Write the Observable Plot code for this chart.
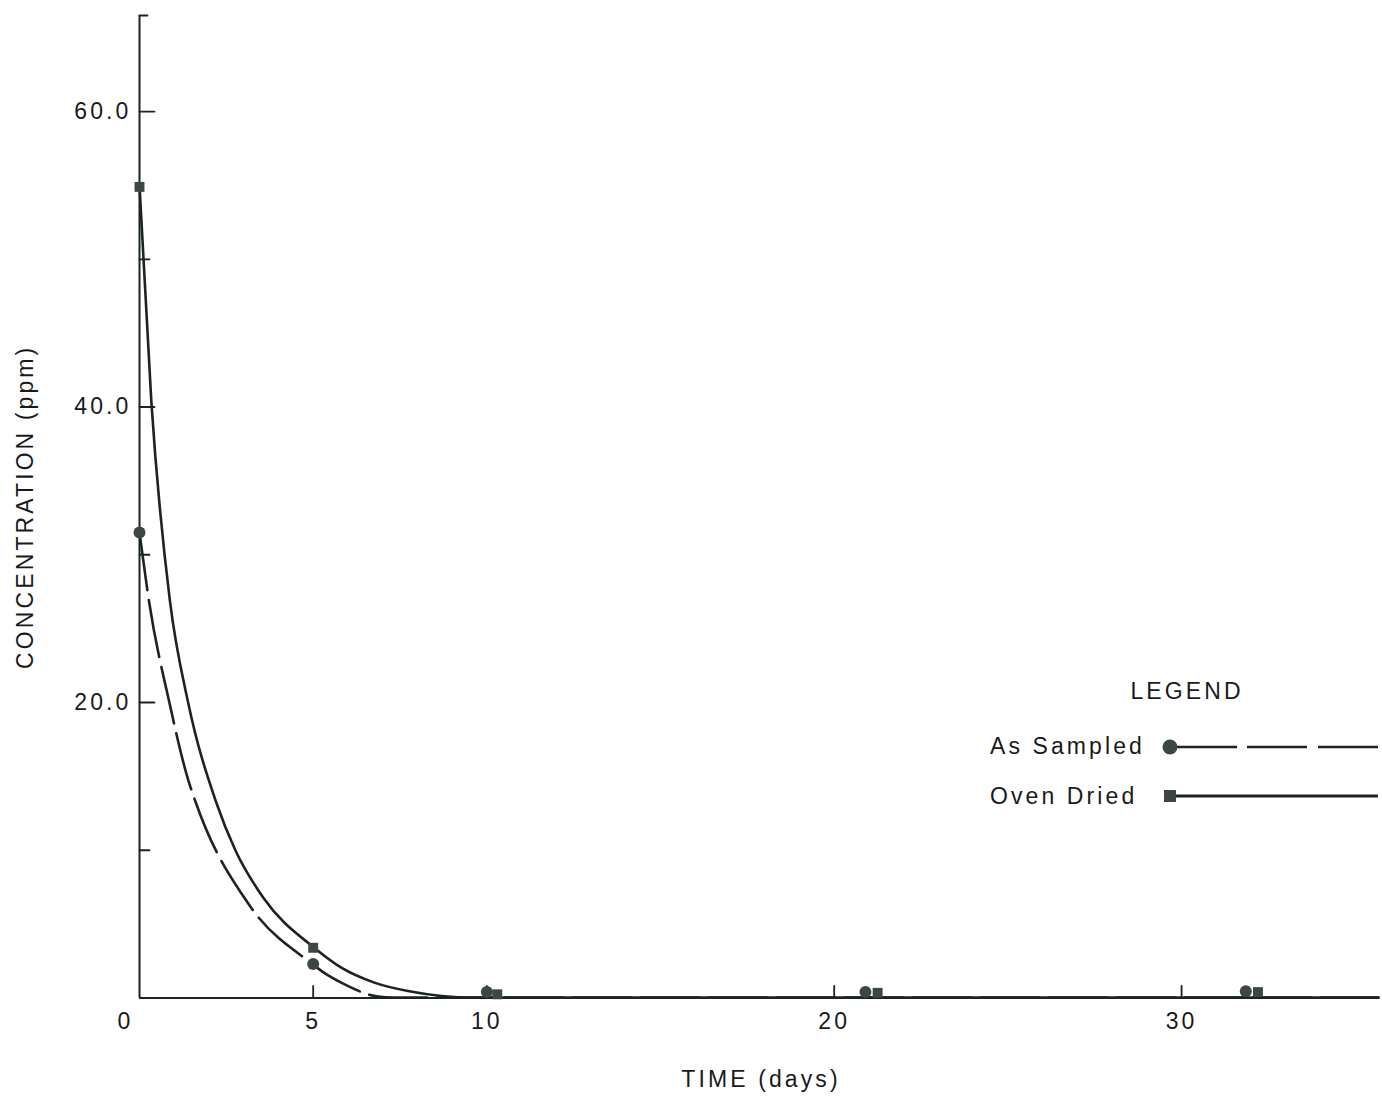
<!DOCTYPE html>
<html><head><meta charset="utf-8">
<script src="https://cdn.jsdelivr.net/npm/d3@7"></script>
<script src="https://cdn.jsdelivr.net/npm/@observablehq/plot@0.6"></script>
<style>
html,body{margin:0;padding:0;background:#fff;}
#wrap{position:relative;width:1382px;height:1098px;}
#wrap svg text{letter-spacing:3.1px;}
#legend{position:absolute;left:0;top:0;pointer-events:none;}
</style></head><body><div id="wrap"></div>
<script>
// ---- data ----
const xMax = 35.67, yMax = 66.5;
const xTickValues = [5, 10, 20, 30];
const xLabelValues = [5, 10, 20, 30];
const xZeroLabel = [0];
const yMajorTicks = [20, 40, 60];
const yMinorTicks = [10, 30, 50];
const yLabelValues = [20, 40, 60];

const sampledDays = [0, 5, 10, 20.9, 31.85];
const sampledPpm  = [31.5, 2.3, 0.4, 0.4, 0.45];
const driedDays   = [0, 5, 10.3, 21.25, 32.2];
const driedPpm    = [54.9, 3.4, 0.25, 0.35, 0.4];

// drawn (fitted) curves
const sampledCurveDays = [0, 0.27, 0.86, 1.41, 1.61, 3.19, 4.98, 5.33, 5.78, 6.87, 7.3, 10, 20, 35.67];
const sampledCurvePpm  = [31.5, 26.9, 20.0, 14.7, 13.3, 6.2, 2.3, 1.68, 1.07, 0.1, 0.03, 0.03, 0.03, 0.03];
const driedCurveDays   = [0, 0.34, 0.875, 1.40, 2.2, 2.76, 3.56, 5.03, 5.81, 6.76, 7.73, 8.69, 9.6, 12, 35.67];
const driedCurvePpm    = [55, 40.4, 26.9, 20.0, 13.3, 10.0, 6.8, 3.4, 2.05, 1.04, 0.47, 0.14, 0.03, 0.03, 0.03];

const legendLabels = ["As Sampled", "Oven Dried"];
const legendTitle = "LEGEND";
const yTitle = "CONCENTRATION (ppm)";
const xTitle = "TIME (days)";

// ---- build tables ----
const zipXY = (xs, ys) => xs.map((x, i) => ({x, y: ys[i]}));
const sampled = zipXY(sampledDays, sampledPpm);
const dried = zipXY(driedDays, driedPpm);
const sampledCurve = zipXY(sampledCurveDays, sampledCurvePpm);
const driedCurve = zipXY(driedCurveDays, driedCurvePpm);

const ink = "#1b2323";
const txt = "#1a1a1a";
const markFill = "#3c4646";
const font = "'Liberation Sans', Arial, Helvetica, sans-serif";
const fs = 23;
const lineShape = {draw(ctx, l) { ctx.moveTo(0, 0); ctx.lineTo(0, -l); }};

const chart = Plot.plot({
  width: 1382, height: 1098,
  marginLeft: 139, marginRight: 4, marginTop: 15, marginBottom: 100.5,
  x: {domain: [0, xMax]},
  y: {domain: [0, yMax]},
  style: {fontFamily: font, fontSize: fs + "px", color: txt, background: "#fff"},
  marks: [
    Plot.ruleY([0], {stroke: ink, strokeWidth: 2}),
    Plot.ruleX([0], {stroke: ink, strokeWidth: 2}),
    Plot.vector(yMajorTicks, {x: 0, y: d => d, length: 15, rotate: 90, anchor: "start", shape: lineShape, stroke: ink, strokeWidth: 1.8}),
    Plot.vector(yMinorTicks, {x: 0, y: d => d, length: 10, rotate: 90, anchor: "start", shape: lineShape, stroke: ink, strokeWidth: 1.8}),
    Plot.vector([yMax], {x: 0, y: d => d, length: 8, rotate: 90, anchor: "start", shape: lineShape, stroke: ink, strokeWidth: 1.8}),
    Plot.vector(xTickValues, {x: d => d, y: 0, length: 12, rotate: 0, anchor: "start", shape: lineShape, stroke: ink, strokeWidth: 1.8}),
    Plot.axisY(yLabelValues, {tickSize: 0, tickPadding: 8, tickFormat: d => d.toFixed(1), fontSize: fs, label: null, fill: txt}),
    Plot.axisX(xLabelValues, {tickSize: 0, tickPadding: 15, fontSize: fs, label: null, fill: txt}),
    Plot.axisX(xZeroLabel, {tickSize: 0, tickPadding: 15, dx: -14, fontSize: fs, label: null, fill: txt}),
    Plot.text([yTitle], {text: d => d, frameAnchor: "left", textAnchor: "middle", lineAnchor: "middle", rotate: -90, dx: -114, fontSize: fs, fill: txt}),
    Plot.text([xTitle], {text: d => d, frameAnchor: "bottom", textAnchor: "middle", lineAnchor: "middle", dx: 2, dy: 82, fontSize: fs, fill: txt}),
    Plot.line(sampledCurve, {x: "x", y: "y", curve: "monotone-x", stroke: ink, strokeWidth: 2.6, strokeDasharray: "58,10"}),
    Plot.line(driedCurve, {x: "x", y: "y", curve: "monotone-x", stroke: ink, strokeWidth: 2.6}),
    Plot.dot(sampled, {x: "x", y: "y", r: 6, symbol: "circle", fill: markFill, stroke: "none"}),
    Plot.dot(dried, {x: "x", y: "y", r: 5.6, symbol: "square", fill: markFill, stroke: "none"})
  ]
});
const wrap = document.getElementById("wrap");
wrap.appendChild(chart);

// ---- legend overlay ----
const leg = d3.select(wrap).append("svg").attr("id", "legend")
  .attr("width", 1382).attr("height", 1098)
  .style("font-family", font).style("font-size", fs + "px");
leg.append("text").attr("x", 1187).attr("y", 699).attr("text-anchor", "middle").attr("fill", txt).text(legendTitle);
leg.append("text").attr("x", 990).attr("y", 754).attr("fill", txt).text(legendLabels[0]);
leg.append("text").attr("x", 990).attr("y", 804).attr("fill", txt).text(legendLabels[1]);
leg.append("line").attr("x1", 1170).attr("x2", 1378).attr("y1", 747).attr("y2", 747)
  .attr("stroke", ink).attr("stroke-width", 2.7).attr("stroke-dasharray", "67,10,60,11");
leg.append("line").attr("x1", 1170).attr("x2", 1378).attr("y1", 796).attr("y2", 796)
  .attr("stroke", ink).attr("stroke-width", 3);
leg.append("circle").attr("cx", 1170).attr("cy", 747).attr("r", 7.5).attr("fill", markFill);
leg.append("rect").attr("x", 1164).attr("y", 790).attr("width", 12).attr("height", 12).attr("fill", markFill);
</script>
</body></html>
